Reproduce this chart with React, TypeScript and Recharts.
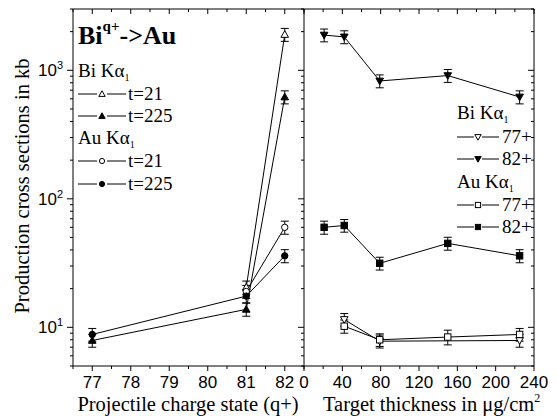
import React from "react";
import { ComposedChart, Line, XAxis, YAxis, ErrorBar } from "recharts";

// left panel: projectile charge state (q+)
const chargeStates = [77, 81, 82];
const biT21 = [null, 20.5, 1900];
const biT21Err = [null, 2.4, 220];
const biT225 = [7.9, 13.8, 620];
const biT225Err = [0.9, 1.6, 72];
const auT21 = [null, 19, 60];
const auT21Err = [null, 2.2, 7];
const auT225 = [8.8, 17.5, 36];
const auT225Err = [1.0, 2.0, 4.2];

// right panel: target thickness in ug/cm2
const thickness = [21, 42, 79, 150, 225];
const bi82 = [1880, 1820, 826, 910, 620];
const bi82Err = [215, 210, 95, 105, 72];
const au82 = [60, 62, 31.5, 45, 36];
const au82Err = [7, 7, 3.6, 5.2, 4.2];
const bi77 = [null, 11.5, 7.8, null, 7.9];
const bi77Err = [null, 1.3, 0.9, null, 0.9];
const au77 = [null, 10.2, 8.0, 8.4, 8.8];
const au77Err = [null, 1.2, 0.9, 1.1, 1.0];

// ticks
const leftXTicks = [76.5, 77, 77.5, 78, 78.5, 79, 79.5, 80, 80.5, 81, 81.5, 82, 82.5];
const leftXLabels = [77, 78, 79, 80, 81, 82];
const rightXTicks = [0, 20, 40, 60, 80, 100, 120, 140, 160, 180, 200, 220, 240];
const rightXLabels = [0, 40, 80, 120, 160, 200, 240];
const yTicks = [5, 6, 7, 8, 9, 10, 20, 30, 40, 50, 60, 70, 80, 90, 100, 200, 300, 400, 500, 600, 700, 800, 900, 1000, 2000, 3000];
const yMajor = [10, 100, 1000];

const SANS = "'Liberation Sans', Arial, sans-serif";
const SERIF = "'Liberation Serif', 'Times New Roman', serif";

type Shape = "up" | "down" | "circle" | "square";

function series(xs: number[], ys: (number | null)[], errs: (number | null)[]) {
  return xs
    .map((x, i) => ({ x, y: ys[i], e: errs[i] }))
    .filter((d) => d.y != null);
}

function Marker({ cx, cy, shape, filled, r = 3.8 }: { cx: number; cy: number; shape: Shape; filled: boolean; r?: number }) {
  const st = { fill: filled ? "#000" : "#fff", stroke: "#000", strokeWidth: 1 };
  if (shape === "circle") return <circle cx={cx} cy={cy} r={r - 0.6} {...st} />;
  if (shape === "square")
    return <rect x={cx - r + 0.6} y={cy - r + 0.6} width={2 * r - 1.2} height={2 * r - 1.2} {...st} />;
  const s = shape === "up" ? 1 : -1;
  const pts = `${cx},${cy - s * r} ${cx + r},${cy + s * r * 0.75} ${cx - r},${cy + s * r * 0.75}`;
  return <polygon points={pts} {...st} />;
}

// ticks: tickSize/tickMargin are 0 so x,y sit on the axis line
function XTick(props: any) {
  const { x, y, payload, majors, labels } = props;
  const v = payload.value;
  const len = majors.includes(v) ? 5 : 3;
  return (
    <g>
      <line x1={x} y1={y} x2={x} y2={y + len} stroke="#000" />
      {labels && labels.includes(v) && (
        <text x={x} y={y + 22} textAnchor="middle" fontFamily={SANS} fontSize={17} fill="#000">
          {v}
        </text>
      )}
    </g>
  );
}

function YTick(props: any) {
  const { x, y, payload, showLabel } = props;
  const v = payload.value;
  const major = yMajor.includes(v);
  return (
    <g>
      <line x1={x} y1={y} x2={x - (major ? 6 : 3)} y2={y} stroke="#000" />
      {showLabel && major && (
        <text x={x - 10} y={y + 6} textAnchor="end" fontFamily={SANS} fontSize={17} fill="#000">
          10
          <tspan dy={-7} fontSize={11}>
            {Math.round(Math.log10(v))}
          </tspan>
        </text>
      )}
    </g>
  );
}

function seriesLine(key: string, data: any[], shape: Shape, filled: boolean, xId: string, yId: string) {
  return (
    <Line
      key={key}
      data={data}
      dataKey="y"
      xAxisId={xId}
      yAxisId={yId}
      type="linear"
      stroke="#000"
      strokeWidth={1}
      isAnimationActive={false}
      activeDot={false}
      dot={(p: any) => <Marker key={`${key}${p.index}`} cx={p.cx} cy={p.cy} shape={shape} filled={filled} />}
    >
      <ErrorBar dataKey="e" width={4} stroke="#000" strokeWidth={1} direction="y" isAnimationActive={false} />
    </Line>
  );
}

// d = [dash end, marker centre, second dash start, second dash end, text start]
function LegendRow({ x, y, shape, filled, label, d }: { x: number; y: number; shape: Shape; filled: boolean; label: string; d: number[] }) {
  return (
    <g>
      <line x1={x} y1={y} x2={x + d[0]} y2={y} stroke="#000" />
      <Marker cx={x + d[1]} cy={y} shape={shape} filled={filled} r={3.2} />
      <line x1={x + d[2]} y1={y} x2={x + d[3]} y2={y} stroke="#000" />
      <text x={x + d[4]} y={y + 6} fontFamily={SERIF} fontSize={19} fill="#000">
        {label}
      </text>
    </g>
  );
}

function KaHeader({ x, y, el }: { x: number; y: number; el: string }) {
  return (
    <text x={x} y={y} fontFamily={SERIF} fontSize={19} fill="#000">
      {el} Kα
      <tspan dy={4} fontSize={10}>
        1
      </tspan>
    </text>
  );
}

const leftRow = [19, 24, 29, 48, 50];
const rightRow = [17, 21, 25, 42, 45];

export default function App() {
  const yDomain: [number, number] = [5, 3000];
  return (
    <div style={{ position: "absolute", left: 0, top: 0, width: 558, height: 416, background: "#fff", overflow: "hidden" }}>
      <div style={{ position: "absolute", left: 0, top: 0 }}>
        <ComposedChart width={320} height={416} margin={{ top: 9, right: 16, bottom: 0, left: 0 }}>
          <XAxis
            xAxisId="b"
            type="number"
            dataKey="x"
            domain={[76.5, 82.5]}
            ticks={leftXTicks}
            interval={0}
            allowDataOverflow
            height={50}
            tickSize={0}
            tickMargin={0}
            tickLine={false}
            axisLine={{ stroke: "#000" }}
            tick={(p: any) => <XTick {...p} majors={leftXLabels} labels={leftXLabels} />}
          />
          <XAxis
            xAxisId="t"
            orientation="top"
            mirror
            type="number"
            dataKey="x"
            domain={[76.5, 82.5]}
            ticks={leftXTicks}
            interval={0}
            allowDataOverflow
            tickSize={0}
            tickMargin={0}
            tickLine={false}
            axisLine={{ stroke: "#000" }}
            tick={(p: any) => <XTick {...p} majors={leftXLabels} />}
          />
          <YAxis
            yAxisId="l"
            scale="log"
            domain={yDomain}
            ticks={yTicks}
            interval={0}
            allowDataOverflow
            width={73}
            tickSize={0}
            tickMargin={0}
            tickLine={false}
            axisLine={{ stroke: "#000" }}
            tick={(p: any) => <YTick {...p} showLabel />}
          />
          <YAxis
            yAxisId="r"
            orientation="right"
            mirror
            scale="log"
            domain={yDomain}
            ticks={yTicks}
            interval={0}
            allowDataOverflow
            tickSize={0}
            tickMargin={0}
            tickLine={false}
            axisLine={{ stroke: "#000" }}
            tick={(p: any) => <YTick {...p} />}
          />
          {seriesLine("bt21", series(chargeStates, biT21, biT21Err), "up", false, "b", "l")}
          {seriesLine("bt225", series(chargeStates, biT225, biT225Err), "up", true, "b", "l")}
          {seriesLine("at21", series(chargeStates, auT21, auT21Err), "circle", false, "b", "l")}
          {seriesLine("at225", series(chargeStates, auT225, auT225Err), "circle", true, "b", "l")}
        </ComposedChart>
      </div>

      <div style={{ position: "absolute", left: 284, top: 0 }}>
        <ComposedChart width={274} height={416} margin={{ top: 9, right: 24, bottom: 0, left: 20 }}>
          <XAxis
            xAxisId="b"
            type="number"
            dataKey="x"
            domain={[0, 240]}
            ticks={rightXTicks}
            interval={0}
            allowDataOverflow
            height={50}
            tickSize={0}
            tickMargin={0}
            tickLine={false}
            axisLine={{ stroke: "#000" }}
            tick={(p: any) => <XTick {...p} majors={rightXLabels} labels={rightXLabels} />}
          />
          <XAxis
            xAxisId="t"
            orientation="top"
            mirror
            type="number"
            dataKey="x"
            domain={[0, 240]}
            ticks={rightXTicks}
            interval={0}
            allowDataOverflow
            tickSize={0}
            tickMargin={0}
            tickLine={false}
            axisLine={{ stroke: "#000" }}
            tick={(p: any) => <XTick {...p} majors={rightXLabels} />}
          />
          <YAxis
            yAxisId="r"
            orientation="right"
            mirror
            scale="log"
            domain={yDomain}
            ticks={yTicks}
            interval={0}
            allowDataOverflow
            tickSize={0}
            tickMargin={0}
            tickLine={false}
            axisLine={{ stroke: "#000" }}
            tick={(p: any) => <YTick {...p} />}
          />
          {seriesLine("b82", series(thickness, bi82, bi82Err), "down", true, "b", "r")}
          {seriesLine("a82", series(thickness, au82, au82Err), "square", true, "b", "r")}
          {seriesLine("b77", series(thickness, bi77, bi77Err), "down", false, "b", "r")}
          {seriesLine("a77", series(thickness, au77, au77Err), "square", false, "b", "r")}
        </ComposedChart>
      </div>

      <svg width={558} height={416} style={{ position: "absolute", left: 0, top: 0, pointerEvents: "none" }}>
        <text x={78} y={44} fontFamily={SERIF} fontWeight="bold" fontSize={26} fill="#000">
          Bi
          <tspan dy={-13} fontSize={15}>
            q+
          </tspan>
          <tspan dy={13} fontSize={26}>
            {"->Au"}
          </tspan>
        </text>

        <KaHeader x={78} y={77} el="Bi" />
        <LegendRow x={78} y={94} shape="up" filled={false} label="t=21" d={leftRow} />
        <LegendRow x={78} y={116} shape="up" filled label="t=225" d={leftRow} />
        <KaHeader x={78} y={144} el="Au" />
        <LegendRow x={78} y={161} shape="circle" filled={false} label="t=21" d={leftRow} />
        <LegendRow x={78} y={184} shape="circle" filled label="t=225" d={leftRow} />

        <KaHeader x={457} y={119} el="Bi" />
        <LegendRow x={457} y={137} shape="down" filled={false} label="77+" d={rightRow} />
        <LegendRow x={457} y={159} shape="down" filled label="82+" d={rightRow} />
        <KaHeader x={457} y={188} el="Au" />
        <LegendRow x={457} y={205} shape="square" filled={false} label="77+" d={rightRow} />
        <LegendRow x={457} y={227} shape="square" filled label="82+" d={rightRow} />

        <text transform="translate(29,186) rotate(-90)" textAnchor="middle" fontFamily={SERIF} fontSize={20.5} fill="#000">
          Production cross sections in kb
        </text>
        <text x={188} y={411} textAnchor="middle" fontFamily={SERIF} fontSize={20.5} fill="#000">
          Projectile charge state (q+)
        </text>
        <text x={323} y={411} fontFamily={SERIF} fontSize={20.5} fill="#000">
          Target thickness in μg/cm
          <tspan dy={-9} fontSize={12}>
            2
          </tspan>
        </text>
      </svg>
    </div>
  );
}
